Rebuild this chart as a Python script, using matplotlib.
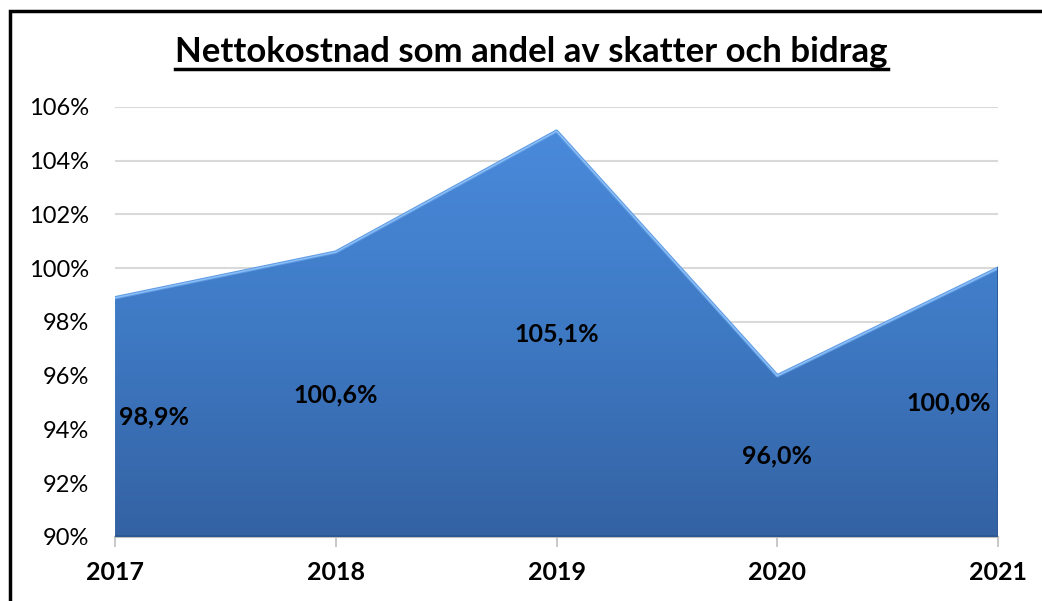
import numpy as np
import matplotlib
matplotlib.use("Agg")
import matplotlib.pyplot as plt
from matplotlib.patches import Rectangle
from matplotlib.lines import Line2D
from matplotlib.colors import LinearSegmentedColormap

years = ["2017", "2018", "2019", "2020", "2021"]
values = [98.9, 100.6, 105.1, 96.0, 100.0]
labels = ["98,9%", "100,6%", "105,1%", "96,0%", "100,0%"]
yticks = [90, 92, 94, 96, 98, 100, 102, 104, 106]
title = "Nettokostnad som andel av skatter och bidrag"

plt.rcParams['font.family'] = ['Lato', 'DejaVu Sans']

fig = plt.figure(figsize=(10.42, 6.01), dpi=100)
ax = fig.add_axes([0.1104, 0.1065, 0.8474, 0.7155])

x = np.arange(len(years))
ymin, ymax = 90, 106

# gradient filled area
poly = ax.fill_between(x, values, ymin, color='none', linewidth=0)
cmap = LinearSegmentedColormap.from_list('blu', ['#3462A3', '#3E79C3', '#4A8ADB'])
grad = np.linspace(0, 1, 256).reshape(-1, 1)
img = ax.imshow(grad, extent=[x[0], x[-1], ymin, max(values)], origin='lower',
                aspect='auto', cmap=cmap, zorder=2)
img.set_clip_path(poly.get_paths()[0], transform=ax.transData)

# bevel-ish highlight along top edge
ax.plot(x, values, color='#5F9BE3', lw=2.5, zorder=3)
ax.plot(x, values, color='#8DC0F8', lw=1.0, zorder=3)
ax.plot([x[-1], x[-1]], [ymin, values[-1]], color='#2E5A95', lw=2, zorder=3)
ax.plot([x[0], x[-1]], [ymin + 0.05, ymin + 0.05], color='#2D5890', lw=2, zorder=3)

# data labels
for i, (v, lab) in enumerate(zip(values, labels)):
    ha = 'center'
    xx = x[i]
    if i == 0:
        ha = 'left'
        xx = x[i] + 0.02
    elif i == len(values) - 1:
        ha = 'right'
        xx = x[i] - 0.03
    ax.text(xx, (v + ymin) / 2, lab, ha=ha, va='center', fontsize=18,
            fontweight='bold', color='black', zorder=5)

ax.set_xlim(x[0], x[-1])
ax.set_ylim(ymin, ymax)
ax.set_yticks(yticks)
ax.set_yticklabels([f"{t}%" for t in yticks])
ax.set_xticks(x)
ax.set_xticklabels(years, fontweight='bold')
ax.tick_params(axis='y', length=0, labelsize=17, pad=19)
ax.tick_params(axis='x', length=7, color='#BFBFBF', width=1.2, labelsize=18, pad=10)
ax.grid(axis='y', color='#D9D9D9', lw=1.5, zorder=0)
ax.set_axisbelow(True)
for s in ['top', 'right', 'left']:
    ax.spines[s].set_visible(False)
ax.spines['bottom'].set_color('#BFBFBF')
ax.spines['bottom'].set_linewidth(1.5)
ax.spines['bottom'].set_zorder(1)

# title with underline
t = fig.text(0.51, 0.913, title, ha='center', va='center', fontsize=25,
             fontweight='bold')
fig.canvas.draw()
bb = t.get_window_extent().transformed(fig.transFigure.inverted())
fig.add_artist(Line2D([bb.x0, bb.x1], [bb.y0 - 0.002, bb.y0 - 0.002],
                      color='black', lw=2.5, transform=fig.transFigure))

# outer frame
fig.add_artist(Rectangle((0.0095, -0.1), 1.2, 1.081, fill=False, edgecolor='black',
                         lw=2.5, transform=fig.transFigure))

fig.savefig("out.png", dpi=100)
